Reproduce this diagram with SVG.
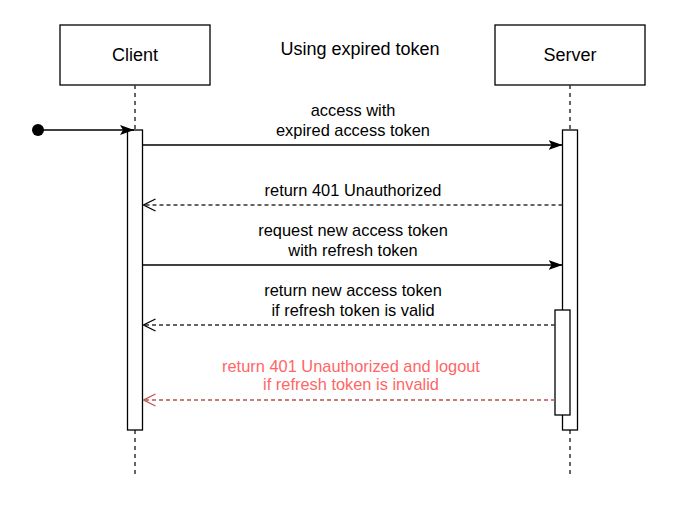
<svg xmlns="http://www.w3.org/2000/svg" width="697" height="507" viewBox="0 0 697 507">
<defs>
<style>
text{font-family:"Liberation Sans",Arial,sans-serif;font-size:16.4px;fill:#000;text-anchor:middle}
.big{font-size:18px}
.box{fill:#fff;stroke:#000;stroke-width:1.3}
.life{stroke:#333;stroke-width:1.5;stroke-dasharray:4 4;fill:none}
.act{fill:#fff;stroke:#000;stroke-width:1.3}
.msg{stroke:#000;stroke-width:1.5;fill:none}
.ret{stroke:#333;stroke-width:1.3;stroke-dasharray:4 3;fill:none}
.red{stroke:#b85450;stroke-width:1.3;stroke-dasharray:4 3;fill:none}
.redt{fill:#ff6666}
</style>
<marker id="fill" viewBox="0 0 14 10" refX="14" refY="5" markerWidth="14" markerHeight="10" markerUnits="userSpaceOnUse" orient="auto"><path d="M0,0 L14,5 L0,10 L3,5 Z" fill="#000"/></marker>
<marker id="open" viewBox="0 0 14 14" refX="13" refY="7" markerWidth="14" markerHeight="14" markerUnits="userSpaceOnUse" orient="auto"><path d="M1,1 L13,7 L1,13" fill="none" stroke="#000" stroke-width="1.3"/></marker>
<marker id="openred" viewBox="0 0 14 14" refX="13" refY="7" markerWidth="14" markerHeight="14" markerUnits="userSpaceOnUse" orient="auto"><path d="M1,1 L13,7 L1,13" fill="none" stroke="#b85450" stroke-width="1.3"/></marker>
</defs>
<rect width="697" height="507" fill="#fff"/>
<text class="big" x="360" y="55">Using expired token</text>
<g id="client">
<rect class="box" x="60" y="25" width="150" height="60"/>
<text class="big" x="135" y="61">Client</text>
<line class="life" x1="135" y1="85" x2="135" y2="130"/>
<line class="life" x1="135" y1="430" x2="135" y2="475"/>
<rect class="act" x="127.5" y="130" width="15" height="300"/>
</g>
<g id="server">
<rect class="box" x="495" y="25" width="150" height="60"/>
<text class="big" x="570" y="61">Server</text>
<line class="life" x1="570" y1="85" x2="570" y2="130"/>
<line class="life" x1="570" y1="430" x2="570" y2="475"/>
<rect class="act" x="562.5" y="130" width="15" height="300"/>
<rect class="act" x="555" y="310" width="15" height="105"/>
</g>
<g id="start">
<circle cx="38" cy="130" r="6" fill="#000"/>
</g>
<g id="connectors">
<line class="msg" x1="38" y1="130" x2="134" y2="130" marker-end="url(#fill)"/>
<line class="msg" x1="142.5" y1="145" x2="562.5" y2="145" marker-end="url(#fill)"/>
<line class="ret" x1="562.5" y1="205" x2="143.5" y2="205" marker-end="url(#open)"/>
<line class="msg" x1="142.5" y1="265" x2="562.5" y2="265" marker-end="url(#fill)"/>
<line class="ret" x1="555" y1="325" x2="143.5" y2="325" marker-end="url(#open)"/>
<line class="red" x1="555" y1="400" x2="143.5" y2="400" marker-end="url(#openred)"/>
</g>
<g id="labels">
<text x="353" y="116">access with</text>
<text x="353" y="136">expired access token</text>
<text x="353" y="196">return 401 Unauthorized</text>
<text x="353" y="236">request new access token</text>
<text x="353" y="256">with refresh token</text>
<text x="353" y="296">return new access token</text>
<text x="353" y="316">if refresh token is valid</text>
<text class="redt" x="351" y="372">return 401 Unauthorized and logout</text>
<text class="redt" x="351" y="390">if refresh token is invalid</text>
</g>
</svg>
